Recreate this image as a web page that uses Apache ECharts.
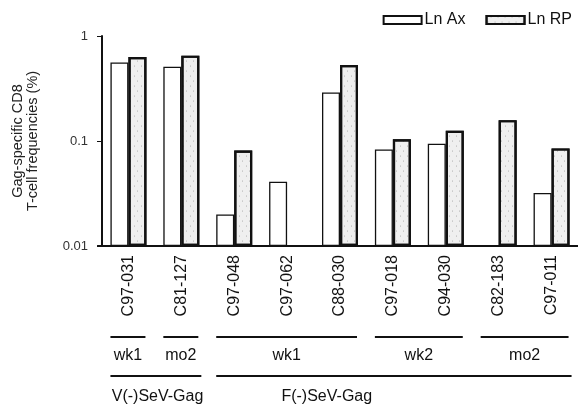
<!DOCTYPE html>
<html>
<head>
<meta charset="utf-8">
<script src="https://cdn.jsdelivr.net/npm/echarts@6/dist/echarts.min.js"></script>
<style>
html, body { margin: 0; padding: 0; background: #fff; }
#main { width: 578px; height: 404px; }
</style>
</head>
<body>
<div id="main"></div>
<script>
// data (log scale, %)
var categories = ['C97-031', 'C81-127', 'C97-048', 'C97-062', 'C88-030', 'C97-018', 'C94-030', 'C82-183', 'C97-011'];
var lnAx = [0.56, 0.51, 0.020, 0.041, 0.29, 0.083, 0.094, '-', 0.032];
var lnRP = [0.63, 0.65, 0.081, '-', 0.53, 0.104, 0.125, 0.158, 0.085];
var yTickLabels = { '0.01': '0.01', '0.1': '0.1', '1': '1' };
var timeGroups = [
  { label: 'wk1', from: 0, to: 0 },
  { label: 'mo2', from: 1, to: 1 },
  { label: 'wk1', from: 2, to: 4 },
  { label: 'wk2', from: 5, to: 6 },
  { label: 'mo2', from: 7, to: 8 }
];
var vectorGroups = [
  { label: 'V(-)SeV-Gag', from: 0, to: 1, at: 0.55 },
  { label: 'F(-)SeV-Gag', from: 2, to: 8, at: 3.75 }
];

var FONT = '"Liberation Sans", Arial, sans-serif';
var chart = echarts.init(document.getElementById('main'));

chart.setOption({
  animation: false,
  textStyle: { fontFamily: FONT },
  grid: { left: 102, right: 0, top: 36, bottom: 158, containLabel: false },
  legend: {
    data: ['Ln Ax', 'Ln RP'],
    right: 1,
    top: 7,
    icon: 'rect',
    itemWidth: 38,
    itemHeight: 8,
    itemGap: 20,
    textStyle: { fontSize: 16, color: '#111', fontFamily: FONT, padding: [0, 0, 0, -2] }
  },
  xAxis: {
    type: 'category',
    data: categories,
    axisLine: { lineStyle: { color: '#111', width: 2 } },
    axisTick: { alignWithLabel: true, length: 6, lineStyle: { color: '#111', width: 1.5 } },
    axisLabel: { rotate: 90, fontSize: 16, color: '#111', margin: 9, interval: 0 }
  },
  yAxis: {
    type: 'log',
    logBase: 10,
    min: 0.01,
    max: 1,
    startValue: 0.01,
    name: 'Gag-specific CD8\nT-cell frequencies (%)',
    nameLocation: 'middle',
    nameGap: 62,
    nameTextStyle: { fontSize: 14.5, color: '#222', lineHeight: 15 },
    axisLine: { show: true, lineStyle: { color: '#111', width: 2 } },
    axisTick: { show: true, length: 5, lineStyle: { color: '#111', width: 1 } },
    axisLabel: {
      fontSize: 13, color: '#333', margin: 14,
      formatter: function (v) { return yTickLabels[String(+v.toPrecision(3))] || ''; }
    },
    splitLine: { show: false }
  },
  series: [
    {
      name: 'Ln Ax',
      type: 'bar',
      data: lnAx,
      barWidth: 18,
      barGap: '0%',
      itemStyle: { color: '#ffffff', borderColor: '#111', borderWidth: 1.3 }
    },
    {
      name: 'Ln RP',
      type: 'bar',
      data: lnRP,
      barWidth: 18,
      itemStyle: {
        color: '#efefef',
        borderColor: '#111',
        borderWidth: 2.2,
        decal: {
          symbol: 'circle',
          symbolSize: 0.5,
          color: 'rgba(0,0,0,0.35)',
          dashArrayX: [[3, 4], [0, 3, 3, 1]],
          dashArrayY: [2, 3],
          rotation: 0
        }
      }
    }
  ]
});

// group brackets under the category labels
function cx(i) {
  var a = chart.convertToPixel({ xAxisIndex: 0 }, categories[0]);
  var b = chart.convertToPixel({ xAxisIndex: 0 }, categories[1]);
  return a + i * (b - a);
}
var els = [];
timeGroups.forEach(function (g) {
  var x1 = cx(g.from) - 18, x2 = cx(g.to) + 17;
  els.push({ type: 'line', shape: { x1: x1, y1: 337, x2: x2, y2: 337 }, style: { stroke: '#111', lineWidth: 2 } });
  els.push({ type: 'text', style: { text: g.label, x: (x1 + x2) / 2, y: 356, align: 'center', verticalAlign: 'middle', font: '16px ' + FONT, fill: '#111' } });
});
vectorGroups.forEach(function (g) {
  var x1 = cx(g.from) - 18, x2 = cx(g.to) + 20;
  els.push({ type: 'line', shape: { x1: x1, y1: 376, x2: x2, y2: 376 }, style: { stroke: '#111', lineWidth: 2 } });
  els.push({ type: 'text', style: { text: g.label, x: cx(g.at), y: 397, align: 'center', verticalAlign: 'middle', font: '16px ' + FONT, fill: '#111' } });
});
// short stub of the base line left of the value axis
var y0 = chart.convertToPixel({ yAxisIndex: 0 }, 0.01);
var xa = chart.convertToPixel({ xAxisIndex: 0 }, categories[0]) - 26.4;
els.push({ type: 'line', shape: { x1: xa - 5, y1: y0, x2: xa, y2: y0 }, style: { stroke: '#111', lineWidth: 2 } });
chart.setOption({ graphic: els });
</script>
</body>
</html>
